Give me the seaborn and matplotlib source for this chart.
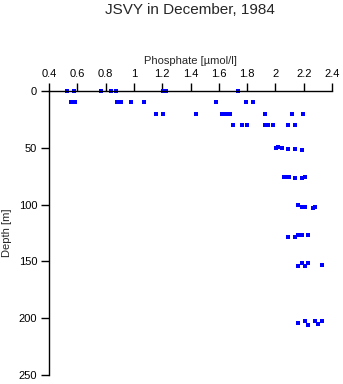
import matplotlib
matplotlib.use("Agg")
import matplotlib.pyplot as plt
import seaborn as sns
import pandas as pd

# Phosphate [umol/l] and depth [m]
phosphate = [
    0.527, 0.576, 0.766, 0.837, 0.872, 1.208, 1.229, 1.738,
    0.555, 0.576, 0.587, 0.879, 0.909, 0.980, 1.069, 1.578, 1.792, 1.839,
    1.156, 1.208, 1.437, 1.623, 1.654, 1.682, 1.930, 2.120, 2.198,
    1.698, 1.761, 1.799, 1.923, 1.949, 1.982, 2.092, 2.142,
    2.001, 2.020, 2.048, 2.090, 2.142, 2.191,
    2.064, 2.080, 2.097, 2.142, 2.191, 2.212,
    2.159, 2.191, 2.212, 2.264, 2.283,
    2.088, 2.142, 2.160, 2.191, 2.231,
    2.160, 2.191, 2.210, 2.231, 2.332,
    2.163, 2.212, 2.229, 2.280, 2.301, 2.332,
]
depth = [
    0, 0, 0, 0, 0, 0, 0, 0,
    10, 10, 10, 10, 10, 10, 10, 10, 10, 10,
    20, 20, 20, 20, 20, 20, 20, 20, 20,
    30, 30, 30, 30, 30, 30, 30, 30,
    50, 49.5, 50.5, 51, 51, 51.5,
    76, 76, 76, 77, 76.5, 76,
    100.6, 102.5, 102, 103, 102,
    128.8, 128.8, 127, 127, 127,
    154, 151.7, 154.3, 151.7, 152.9,
    204, 202.2, 206.3, 202.7, 205.4, 202.7,
]
x_ticks = [0.4, 0.6, 0.8, 1.0, 1.2, 1.4, 1.6, 1.8, 2.0, 2.2, 2.4]
x_tick_labels = ["0.4", "0.6", "0.8", "1", "1.2", "1.4", "1.6", "1.8", "2", "2.2", "2.4"]
y_ticks = [0, 50, 100, 150, 200, 250]

df = pd.DataFrame({"phosphate": phosphate, "depth": depth})

sns.set_style("white")
plt.rcParams["font.family"] = ["Liberation Sans", "DejaVu Sans"]

fig = plt.figure(figsize=(3.43, 3.84), dpi=100)
ax = fig.add_axes([49 / 343, 1 - 375 / 384, (332 - 49) / 343, (375 - 91) / 384])

sns.scatterplot(data=df, x="phosphate", y="depth", ax=ax, marker="s",
                s=5.5, color="#0000ff", linewidth=0, clip_on=False, legend=False)

ax.set_xlim(0.4, 2.4)
ax.set_ylim(250, 0)
ax.xaxis.set_ticks_position("top")
ax.xaxis.set_label_position("top")
ax.set_xticks(x_ticks)
ax.set_xticklabels(x_tick_labels)
ax.set_yticks(y_ticks)
for side in ["right", "bottom"]:
    ax.spines[side].set_visible(False)
for side in ["left", "top"]:
    ax.spines[side].set_color("black")
    ax.spines[side].set_linewidth(1.0)
ax.tick_params(axis="both", direction="out", length=6, width=1.0,
               colors="black", labelsize=8, pad=2.5)
ax.tick_params(axis="x", top=True, bottom=False)
ax.tick_params(axis="y", left=True, right=False)
ax.set_xlabel("Phosphate [\u00b5mol/l]", fontsize=8, labelpad=4)
ax.set_ylabel("Depth [m]", fontsize=8, labelpad=5)
ax.grid(False)
fig.suptitle("JSVY in December, 1984", x=190 / 343, y=1 - 3 / 384,
             va="top", fontsize=11)

fig.savefig("out.png", dpi=100)
